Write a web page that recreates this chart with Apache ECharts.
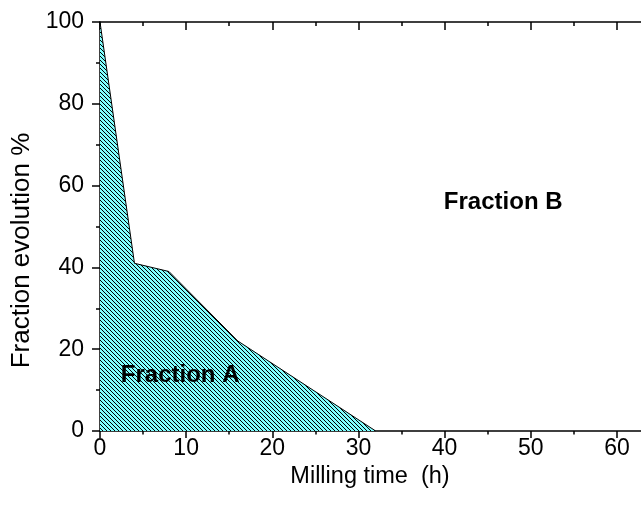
<!DOCTYPE html>
<html>
<head>
<meta charset="utf-8">
<script src="https://cdn.jsdelivr.net/npm/echarts@6/dist/echarts.min.js"></script>
<style>
  html, body { margin: 0; padding: 0; background: #fff; }
  #chart { width: 641px; height: 510px; }
</style>
</head>
<body>
<div id="chart"></div>
<script>
// Milling time (h) vs. remaining share of Fraction A (%)
const millingHours = [0, 4, 8, 16, 32];
const fractionA = [100, 41, 39, 22, 0];

// Region labels placed in data coordinates
const regionNames = ['Fraction A', 'Fraction B'];
const regionX = [9.3, 46.8];
const regionY = [13.7, 55.8];

const xTicks = { min: 0, max: 65, interval: 10 };
const yTicks = { min: 0, max: 100, interval: 20 };

const FONT = 'Liberation Sans, Arial, sans-serif';

// Cyan fill with thin dark diagonal hatching (pixel-aligned)
function hatchPattern() {
  const n = 4;
  const c = document.createElement('canvas');
  c.width = n; c.height = n;
  const g = c.getContext('2d');
  g.fillStyle = '#80ffff';
  g.fillRect(0, 0, n, n);
  g.fillStyle = '#000';
  for (let y = 0; y < n; y++) {
    g.fillRect(y, y, 1, 1);
  }
  return c;
}

const chart = echarts.init(document.getElementById('chart'), null, { renderer: 'canvas' });

const tickText = { color: '#000', fontSize: 23, fontFamily: FONT };
const xTitleText = { color: '#000', fontSize: 23.5, fontFamily: FONT, padding: [0, 20, 0, 0] };
const yTitleText = { color: '#000', fontSize: 26, fontFamily: FONT, padding: [0, 48, 0, 0] };
const lineStyle = { color: '#000', width: 1.5 };

chart.setOption({
  animation: false,
  backgroundColor: '#fff',
  grid: { left: 100, top: 22, width: 560, height: 409, outerBoundsMode: 'none', containLabel: false },
  xAxis: [
    {
      type: 'value', position: 'bottom', min: xTicks.min, max: xTicks.max, interval: xTicks.interval,
      name: 'Milling time  (h)', nameLocation: 'middle', nameGap: 15,
      nameTextStyle: xTitleText,
      axisLine: { show: true, onZero: false, lineStyle },
      axisTick: { show: true, inside: false, length: 7, lineStyle },
      minorTick: { show: true, splitNumber: 2, length: 3.5, lineStyle },
      axisLabel: Object.assign({ margin: 6, showMaxLabel: false }, tickText),
      splitLine: { show: false }
    },
    {
      type: 'value', position: 'top', min: xTicks.min, max: xTicks.max, interval: xTicks.interval,
      axisLine: { show: true, onZero: false, lineStyle },
      axisTick: { show: true, inside: true, length: 8, lineStyle },
      minorTick: { show: true, splitNumber: 2, length: 4, lineStyle },
      axisLabel: { show: false },
      splitLine: { show: false }
    }
  ],
  yAxis: [
    {
      type: 'value', min: yTicks.min, max: yTicks.max, interval: yTicks.interval,
      name: 'Fraction evolution %', nameLocation: 'middle', nameGap: 56,
      nameTextStyle: yTitleText,
      axisLine: { show: true, onZero: false, lineStyle },
      axisTick: { show: true, inside: false, length: 8, lineStyle },
      minorTick: { show: true, splitNumber: 2, length: 4, lineStyle },
      axisLabel: Object.assign({ margin: 16 }, tickText),
      splitLine: { show: false }
    }
  ],
  series: [
    {
      type: 'line',
      data: millingHours.map((h, i) => [h, fractionA[i]]),
      symbol: 'none',
      lineStyle: { color: '#000', width: 1 },
      areaStyle: { color: { image: hatchPattern(), repeat: 'repeat' }, opacity: 1 },
      z: 1
    },
    {
      type: 'scatter',
      data: regionNames.map((n, i) => ({ name: n, value: [regionX[i], regionY[i]] })),
      symbolSize: 0,
      itemStyle: { color: 'transparent', opacity: 1 },
      label: {
        show: true, position: 'inside', formatter: '{b}',
        color: '#000', fontSize: 24, fontWeight: 'bold', fontFamily: FONT,
        textBorderWidth: 0, textBorderColor: 'transparent', opacity: 1
      },
      z: 5
    }
  ]
});
</script>
</body>
</html>
